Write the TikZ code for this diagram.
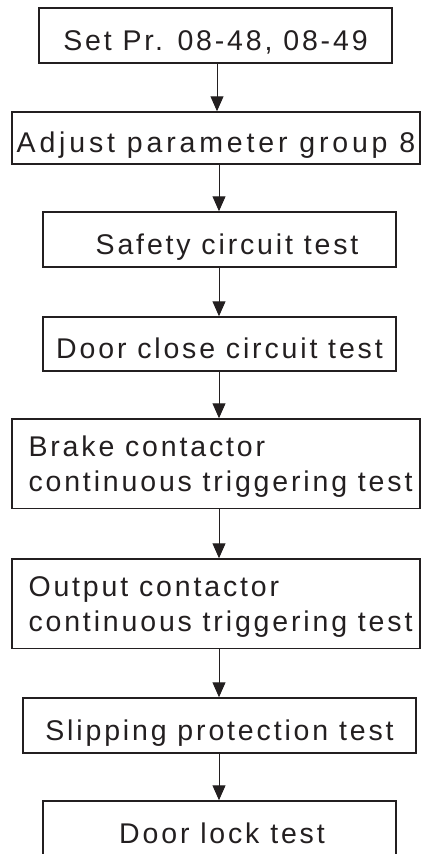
\documentclass[tikz,border=0pt]{standalone}
\usepackage{fontspec}
\newfontfamily\boxfont[LetterSpace=10]{Liberation Sans}
\usetikzlibrary{arrows.meta}
\definecolor{ink}{HTML}{231F20}
\begin{document}
\begin{tikzpicture}[x=1pt,y=-1pt,
  box/.style={draw=ink, line width=1.5pt, inner sep=0pt, text=ink,
    font=\boxfont\fontsize{28.5pt}{35pt}\selectfont,
    text height=29pt, text depth=0pt},
  twoline/.style={box, text height=20pt, text depth=34.4pt},
  flow/.style={draw=ink, line width=1pt, -{Triangle[width=13pt,length=15pt]}}]
\useasboundingbox (0,0) rectangle (421,854);
\node[box, minimum width=353pt, minimum height=55pt] (b1) at (215.5,35.5) {Set Pr. 08-48, 08-49};
\node[box, minimum width=408pt, minimum height=52pt] (b2) at (216,138) {\addfontfeature{LetterSpace=13.5}Adjust parameter group 8};
\node[box, minimum width=353pt, minimum height=55pt] (b3) at (219.5,239.5) {\hspace*{15pt}Safety circuit test};
\node[box, minimum width=353pt, minimum height=54pt] (b4) at (219.5,344) {Door close circuit test};
\node[twoline, minimum width=408pt, minimum height=89.5pt] (b5) at (216,463.75)
  {\hspace*{9pt}\begin{tabular}[t]{@{}l@{}}Brake contactor\\continuous triggering test\end{tabular}};
\node[twoline, minimum width=408pt, minimum height=89.5pt] (b6) at (216,603.75)
  {\hspace*{9pt}\begin{tabular}[t]{@{}l@{}}Output contactor\\continuous triggering test\end{tabular}};
\node[box, minimum width=393pt, minimum height=55pt] (b7) at (219.5,725.5) {Slipping protection test};
\node[box, minimum width=353pt, minimum height=55pt] (b8) at (219.5,828.5) {\hspace*{5pt}Door lock test};
\coordinate (ax1) at (217,0);
\coordinate (ax) at (219,0);
\draw[flow] (b1.south -| ax1) -- (b2.north -| ax1);
\draw[flow] (b2.south -| ax) -- (b3.north -| ax);
\draw[flow] (b3.south -| ax) -- (b4.north -| ax);
\draw[flow] (b4.south -| ax) -- (b5.north -| ax);
\draw[flow] (b5.south -| ax) -- (b6.north -| ax);
\draw[flow] (b6.south -| ax) -- (b7.north -| ax);
\draw[flow] (b7.south -| ax) -- (b8.north -| ax);
\end{tikzpicture}
\end{document}
